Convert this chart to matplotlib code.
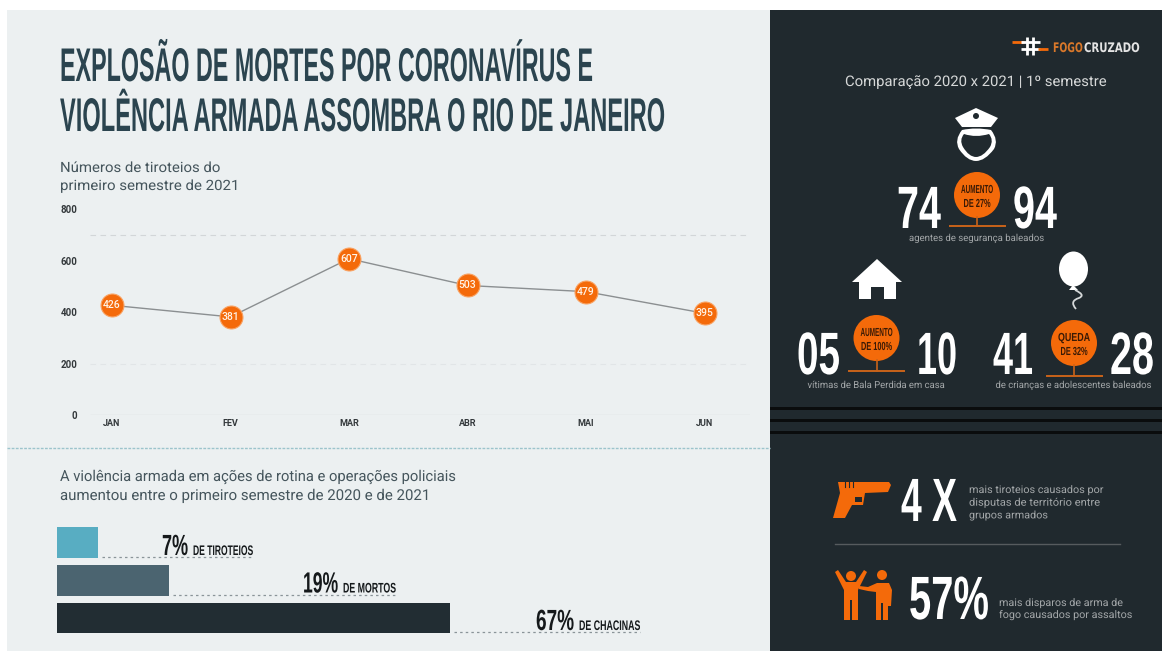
import matplotlib
matplotlib.use("Agg")
import matplotlib.pyplot as plt
import matplotlib.patheffects as pe
from matplotlib.patches import Circle, Ellipse, PathPatch, Polygon, Rectangle
from matplotlib.path import Path
from matplotlib.transforms import Affine2D

W, H = 1162, 651

MONTHS = ["JAN", "FEV", "MAR", "ABR", "MAI", "JUN"]
SHOOTINGS = [426, 381, 607, 503, 479, 395]
Y_TICKS = [0, 200, 400, 600, 800]

BAR_VALUES = [7, 19, 67]
BAR_LABELS = ["DE TIROTEIOS", "DE MORTOS", "DE CHACINAS"]
BAR_COLORS = ["#58adc2", "#4b6470", "#222d33"]

ORANGE = "#f46a0a"
INK = "#2b444f"
BODY = "#45555c"
PANEL = "#20292e"
PAPER = "#ecf0f1"
SOFT = "#a3a7a9"
NARROW = ["Liberation Sans Narrow", "Liberation Sans", "DejaVu Sans"]
PLAIN = ["Roboto", "DejaVu Sans"]


class Squeeze(pe.AbstractPathEffect):
    """Scale glyphs horizontally around an anchor, for condensed lettering."""

    def __init__(self, factor, x0):
        super().__init__()
        self.factor = factor
        self.x0 = x0

    def draw_path(self, renderer, gc, tpath, affine, rgbFace=None):
        t = affine + Affine2D().translate(-self.x0, 0).scale(self.factor, 1).translate(self.x0, 0)
        renderer.draw_path(gc, tpath, t, rgbFace)


fig = plt.figure(figsize=(W / 100, H / 100), dpi=100, facecolor="white")
bg = fig.add_axes([0, 0, 1, 1], zorder=0)
bg.set_xlim(0, W)
bg.set_ylim(H, 0)
bg.axis("off")
renderer = fig.canvas.get_renderer()


def label(x, y, s, size, width=None, color=BODY, family=PLAIN, weight="normal", ha="left", va="baseline", ax=bg):
    t = ax.text(x, y, s, fontsize=size, color=color, family=family, weight=weight, ha=ha, va=va)
    if width is not None:
        # squeeze about the anchor until the string spans the wanted width
        factor = width / t.get_window_extent(renderer).width
        x0 = t.get_transform().transform((x, y))[0]
        squeeze = Affine2D().translate(-x0, 0).scale(factor, 1).translate(x0, 0)
        t.set_path_effects([Squeeze(factor, x0)])
        full_extent = t.get_window_extent
        t.get_window_extent = lambda r=None, dpi=None: full_extent(r, dpi).transformed(squeeze)
    return t


def axes_px(left, top, right, bottom):
    return fig.add_axes([left / W, 1 - bottom / H, (right - left) / W, (bottom - top) / H], zorder=1, facecolor="none")


# background panels
bg.add_patch(Rectangle((7, 10), 763, 641, color=PAPER, lw=0))
bg.add_patch(Rectangle((770, 10), 392, 641, color=PANEL, lw=0))
for y in [408, 420, 432]:
    bg.add_patch(Rectangle((770, y - 1.5), 392, 3, color="#0a0c0d", lw=0))
bg.plot([7, 770], [447.5, 447.5], color="#9cc4cc", lw=1, ls=(0, (2, 1)))

# title and subtitles
label(60, 81, "EXPLOSÃO DE MORTES POR CORONAVÍRUS E", 34, width=533, color=INK, family=NARROW, weight="bold")
label(60, 131, "VIOLÊNCIA ARMADA ASSOMBRA O RIO DE JANEIRO", 34, width=605, color=INK, family=NARROW, weight="bold")
label(60, 172, "Números de tiroteios do", 10.2, width=160)
label(60, 190, "primeiro semestre de 2021", 10.2, width=179)
label(60, 481, "A violência armada em ações de rotina e operações policiais", 10.8, width=395)
label(60, 500, "aumentou entre o primeiro semestre de 2020 e de 2021", 10.8, width=370)

# shootings per month
ax = axes_px(90, 209, 750, 415)
ax.set_xlim(-22 / 118.5, 638 / 118.5)
ax.set_ylim(0, 800)
for side in ax.spines.values():
    side.set_visible(False)
ax.hlines(700, *ax.get_xlim(), color="#d2d6d8", lw=0.8, ls=(0, (5, 4)))
ax.hlines(200, *ax.get_xlim(), color="#e1e5e7", lw=0.8, ls=(0, (5, 4)))
ax.hlines(0, *ax.get_xlim(), color="#d8dcde", lw=1)
ax.plot(range(len(MONTHS)), SHOOTINGS, color="#8b8f91", lw=1, zorder=2)
ax.plot(range(len(MONTHS)), SHOOTINGS, "o", ms=16.5, mfc=ORANGE, mec="#f9a262", mew=0.8, zorder=3)
for i, v in enumerate(SHOOTINGS):
    ax.text(i, v, str(v), color="#fff4e8", fontsize=7.5, family=PLAIN, weight="medium", ha="center", va="center", zorder=4)
ax.set_xticks(range(len(MONTHS)), MONTHS, fontsize=6.5, family=PLAIN, weight="bold", color="#33383b")
ax.set_yticks(Y_TICKS, [str(v) for v in Y_TICKS], fontsize=7, family=PLAIN, weight="bold", color="#33383b")
ax.tick_params(length=0, axis="x", pad=3)
ax.tick_params(length=0, axis="y", pad=9)

# percentage bars
bars = axes_px(57, 523.6, 644, 636.9)
bars.axis("off")
bars.set_xlim(0, 100)
bars.set_ylim(2.5, -0.5)
bars.barh(range(3), BAR_VALUES, height=0.81, color=BAR_COLORS)
LABEL_X = [162, 303, 536]
BIG_W = [26, 35, 38]
LEADER_END = [253, 396, 640]
for i, v in enumerate(BAR_VALUES):
    y_px = 557 + i * 37.5
    end_px = 57 + v * 5.87
    bg.plot([end_px + 4, LEADER_END[i]], [y_px, y_px], color="#8a9499", lw=0.9, ls=(0, (2, 2.5)))
    label(LABEL_X[i], y_px - 2, f"{v}%", 21, width=BIG_W[i], color="#15191b", family=NARROW, weight="bold")
    x_small = LABEL_X[i] + BIG_W[i] + 5
    label(x_small, y_px - 2, BAR_LABELS[i], 10, width=LEADER_END[i] - x_small,
          color="#15191b", family=NARROW, weight="bold")

# logo
for x0, x1, y, c in [(1012, 1024, 42, ORANGE), (1021, 1040, 42, "white"), (1021, 1040, 49, "white"), (1038, 1048, 49, ORANGE)]:
    bg.plot([x0, x1], [y, y], color=c, lw=2, solid_capstyle="butt")
for x in [1027, 1033]:
    bg.plot([x, x], [37, 55], color="white", lw=2, solid_capstyle="butt")
label(1053, 52, "FOGO", 9.5, width=30, color="#d9782a", family=["DejaVu Sans"], weight="bold")
label(1084, 52, "CRUZADO", 9.5, width=56, color="#e4e4e4", family=["DejaVu Sans"], weight="bold")
label(976, 86, "Comparação 2020 x 2021 | 1º semestre", 10.5, width=262, color="#d6d8d8", ha="center")

# police officer
bg.add_patch(Polygon([(955, 118), (976, 108), (998, 118), (991, 127), (962, 127)], color="white", lw=0))
bg.add_patch(Circle((976, 116), 3, color=PANEL, lw=0))
outer = Path([(962, 130), (976, 127), (991, 130), (999, 140), (994, 149), (985, 161), (976, 161),
              (967, 161), (959, 149), (954, 140), (962, 130)],
             [Path.MOVETO, Path.CURVE3, Path.CURVE3, Path.CURVE3, Path.CURVE3, Path.CURVE3, Path.LINETO,
              Path.CURVE3, Path.CURVE3, Path.CURVE3, Path.CURVE3])
inner = Path([(964, 134), (976, 138), (989, 134), (994, 140), (990, 147), (983, 157), (976, 157),
              (969, 157), (963, 147), (959, 140), (964, 134)],
             [Path.MOVETO, Path.CURVE3, Path.CURVE3, Path.CURVE3, Path.CURVE3, Path.CURVE3, Path.LINETO,
              Path.CURVE3, Path.CURVE3, Path.CURVE3, Path.CURVE3])
bg.add_patch(PathPatch(outer, fc="white", ec="none"))
bg.add_patch(PathPatch(inner, fc=PANEL, ec="none"))

# house
bg.add_patch(Polygon([(852, 282), (877, 259), (902, 282), (896, 282), (896, 299), (884, 299), (884, 287),
                      (871, 287), (871, 299), (859, 299), (859, 282)], color="white", lw=0))

# balloon
bg.add_patch(Ellipse((1073.5, 269), 29, 35, color="white", lw=0))
bg.add_patch(Polygon([(1073, 285), (1069, 290), (1078, 290)], color="white", lw=0))
string = Path([(1075, 290), (1086, 295), (1079, 298), (1069, 301), (1076, 309)],
              [Path.MOVETO, Path.CURVE3, Path.CURVE3, Path.CURVE3, Path.CURVE3])
bg.add_patch(PathPatch(string, fc="none", ec="#d5d8d9", lw=1.3))


def comparison(x, y, numbers, baseline, base_y, lines, caption, cap_y, cap_w):
    for s, px, w in numbers:
        label(px, baseline, s, 43, width=w, color="white", family=NARROW, weight="bold")
    bg.add_patch(Circle((x, y), 23, color=ORANGE, lw=0))
    bg.plot([x, x], [y + 22, base_y], color="#c9631a", lw=1.2)
    bg.plot([x - 27.5, x + 27.5], [base_y, base_y], color="#c9631a", lw=1.4)
    label(x, y - 2, lines[0], 8.4, width=32, color="#3a1a05", family=NARROW, weight="bold", ha="center")
    label(x, y + 12, lines[1], 8.4, width=27 if len(lines[1]) < 7 else 31, color="#3a1a05", family=NARROW,
          weight="bold", ha="center")
    label(x, cap_y, caption, 7, width=cap_w, color=SOFT, ha="center")


comparison(977, 195, [("74", 897, 44), ("94", 1013, 44)], 228, 226, ("AUMENTO", "DE 27%"),
           "agentes de segurança baleados", 241, 136)
comparison(876.5, 338, [("05", 797, 43), ("10", 917, 40)], 374, 371, ("AUMENTO", "DE 100%"),
           "vítimas de Bala Perdida em casa", 388, 138)
comparison(1074, 343, [("41", 993, 40), ("28", 1110, 44)], 374, 376, ("QUEDA", "DE 32%"),
           "de crianças e adolescentes baleados", 388, 157)

# pistol
bg.add_patch(Polygon([(838, 482), (889, 482), (891, 485), (888, 492), (865, 493), (863, 505), (852, 505),
                      (845, 518), (833, 518), (840, 493)], color=ORANGE, lw=0))
bg.add_patch(Rectangle((855, 497), 7, 5, color=PANEL, lw=0))
for x in [845, 849, 853]:
    bg.plot([x, x], [482, 487], color=PANEL, lw=0.8)
label(901, 521, "4 X", 44, width=56, color="white", family=NARROW, weight="bold")
for i, s in enumerate(["mais tiroteios causados por", "disputas de território entre", "grupos armados"]):
    label(969, 493 + i * 12.7, s, 7.6, width=[134, 131, 79][i], color=SOFT)
bg.plot([835, 1120], [544, 544], color="#565b5e", lw=1)

# armed robbery pictogram
bg.add_patch(Circle((851, 576), 5, color=ORANGE, lw=0))
bg.add_patch(Circle((882, 575), 5, color=ORANGE, lw=0))
bg.add_patch(Polygon([(835, 572), (838, 570), (846, 582), (856, 582), (864, 570), (867, 572), (858, 590), (858, 620),
                      (852, 620), (852, 600), (850, 600), (850, 620), (844, 620), (844, 590)], color=ORANGE, lw=0))
bg.add_patch(Polygon([(877, 583), (889, 583), (892, 590), (891, 606), (888, 606), (888, 620), (883, 620), (883, 603),
                      (881, 603), (881, 620), (876, 620), (876, 592), (868, 591), (859, 589), (859, 586), (868, 587)],
                     color=ORANGE, lw=0))
label(909, 619, "57%", 44, width=80, color="white", family=NARROW, weight="bold")
label(999, 606, "mais disparos de arma de", 7.6, width=124, color=SOFT)
label(999, 618, "fogo causados por assaltos", 7.6, width=133, color=SOFT)

fig.savefig("out.png", dpi=100)
